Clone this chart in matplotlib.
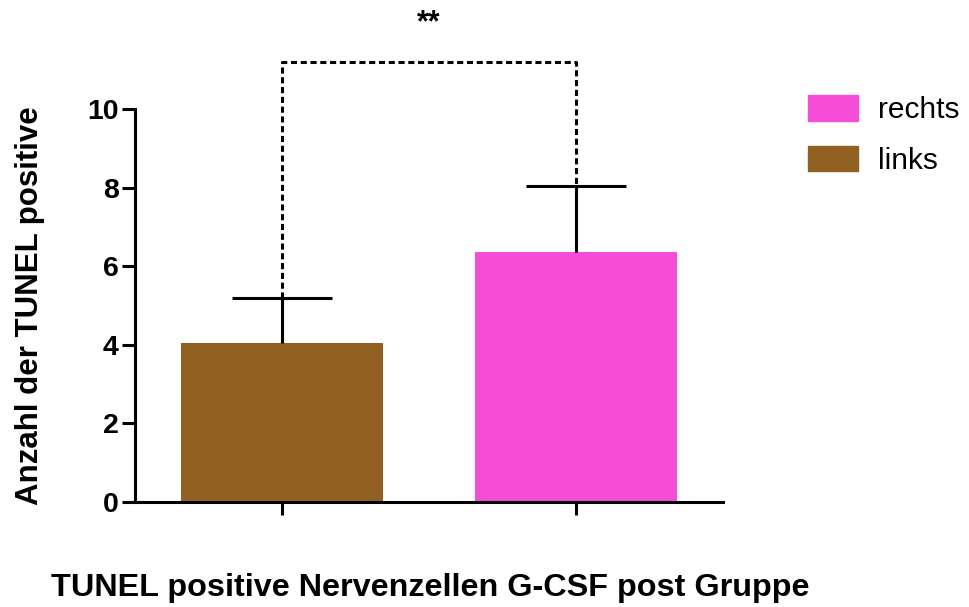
import matplotlib
matplotlib.use("Agg")
import matplotlib.pyplot as plt
from matplotlib.patches import Patch

categories = ["links", "rechts"]
means = [4.04, 6.36]
sem = [1.16, 1.68]
colors = ["#8f6020", "#f64dd8"]
bracket_y = 11.2
sig_label = "**"
y_ticks = [0, 2, 4, 6, 8, 10]

plt.rcParams['font.family'] = ['Liberation Sans', 'DejaVu Sans']

fig = plt.figure(figsize=(9.7, 6.07), dpi=100)
ax = fig.add_axes([0.139, 0.1735, 0.606, 0.6465])

x = list(range(len(categories)))
bw = 0.687
cap = 0.17
ax.bar(x, means, width=bw, color=colors, zorder=2)
tops = [m + s for m, s in zip(means, sem)]
ax.vlines(x, means, tops, color='black', linewidth=2.2, zorder=3)
ax.hlines(tops, [xi - cap for xi in x], [xi + cap for xi in x],
          color='black', linewidth=2.2, zorder=3)

# significance bracket
ax.plot([x[0], x[0], x[1], x[1]], [tops[0], bracket_y, bracket_y, tops[1]],
        color='black', linestyle=(0, (2, 1.2)), linewidth=2.2, clip_on=False, zorder=1)
ax.text((x[0] + x[1]) / 2, 12.2, sig_label, ha='center', va='center',
        fontsize=22, fontweight='bold', clip_on=False)

ax.set_xlim(-0.5, 1.5)
ax.set_ylim(0, 10)
ax.set_yticks(y_ticks)
ax.set_yticklabels([str(t) for t in y_ticks], fontsize=20.5, fontweight='bold')
ax.set_xticks(x)
ax.set_xticklabels([])
ax.tick_params(axis='both', direction='out', length=9.5, width=2.2)
ax.tick_params(axis='y', pad=2)
for s in ['top', 'right']:
    ax.spines[s].set_visible(False)
for s in ['left', 'bottom']:
    ax.spines[s].set_linewidth(2.2)

ax.set_ylabel("Anzahl der TUNEL positive", fontsize=22.5, fontweight='bold')
ax.yaxis.set_label_coords(-0.153, 0.5)
fig.text(0.444, 1 - 588 / 607, "TUNEL positive Nervenzellen G-CSF post Gruppe",
         ha='center', va='center', fontsize=23.3, fontweight='bold')

handles = [Patch(color=colors[1], label=categories[1]),
           Patch(color=colors[0], label=categories[0])]
fig.legend(handles=handles, loc='upper left', bbox_to_anchor=(808 / 970, 1 - 95 / 607),
           frameon=False, fontsize=21.5, handlelength=1.67, handleheight=0.94,
           labelspacing=0.72, handletextpad=0.68, borderpad=0, borderaxespad=0)

fig.savefig("out.png", dpi=100)
